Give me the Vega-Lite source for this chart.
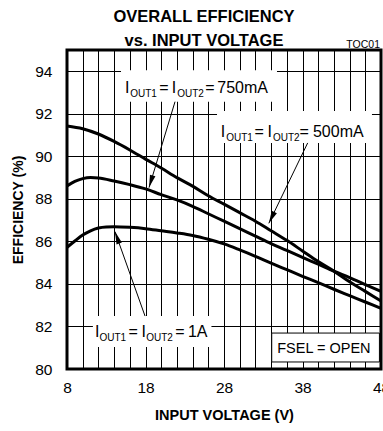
{
  "$schema": "https://vega.github.io/schema/vega-lite/v6.json",
  "autosize": {"type": "none"},
  "padding": {"left": 67, "top": 50, "right": 2, "bottom": 62},
  "width": 314,
  "height": 319,
  "background": "white",
  "config": {
    "view": {"stroke": "#000", "strokeWidth": 3},
    "font": "Liberation Sans",
    "text": {"font": "Liberation Sans", "color": "#000"}
  },
  "title": {
    "text": ["OVERALL EFFICIENCY", "vs. INPUT VOLTAGE"],
    "font": "Liberation Sans",
    "fontSize": 16.5,
    "fontWeight": "bold",
    "lineHeight": 24,
    "anchor": "middle",
    "dx": -20,
    "dy": 13,
    "offset": 4,
    "color": "#000"
  },
  "encoding": {
    "x": {
      "field": "x", "type": "quantitative",
      "scale": {"domain": [8, 48], "nice": false, "zero": false},
      "axis": {
        "title": "INPUT VOLTAGE (V)",
        "values": [8,10,12,14,16,18,20,22,24,26,28,30,32,34,36,38,40,42,44,46,48],
        "labelExpr": "(datum.value - 8) % 10 === 0 ? datum.label : ''",
        "labelFlush": false, "labelOverlap": false,
        "grid": true, "gridColor": "#000", "gridWidth": 1, "gridOpacity": 1,
        "ticks": false, "domain": false,
        "labelFont": "Liberation Sans", "labelFontSize": 15.5, "labelColor": "#000", "labelPadding": 11,
        "titleFont": "Liberation Sans", "titleFontSize": 14.5, "titleFontWeight": "bold", "titleColor": "#000", "titlePadding": 13
      }
    },
    "y": {
      "field": "y", "type": "quantitative",
      "scale": {"domain": [80, 95], "nice": false, "zero": false},
      "axis": {
        "title": "EFFICIENCY (%)",
        "values": [80,82,84,86,88,90,92,94],
        "labelOverlap": false, "labelFlush": false,
        "grid": true, "gridColor": "#000", "gridWidth": 1, "gridOpacity": 1,
        "ticks": false, "domain": false,
        "labelFont": "Liberation Sans", "labelFontSize": 15.5, "labelColor": "#000", "labelPadding": 15,
        "titleFont": "Liberation Sans", "titleFontSize": 14, "titleFontWeight": "bold", "titleColor": "#000", "titlePadding": 9
      }
    }
  },
  "layer": [
    {
      "data": {"values": [
        {"series": "500mA", "x": 8, "y": 91.43}, {"series": "500mA", "x": 10, "y": 91.3}, {"series": "500mA", "x": 12, "y": 91.05},
        {"series": "500mA", "x": 14, "y": 90.7}, {"series": "500mA", "x": 16, "y": 90.3}, {"series": "500mA", "x": 18, "y": 89.87},
        {"series": "500mA", "x": 20, "y": 89.45}, {"series": "500mA", "x": 22, "y": 89.0}, {"series": "500mA", "x": 24, "y": 88.6},
        {"series": "500mA", "x": 26, "y": 88.15}, {"series": "500mA", "x": 28, "y": 87.75}, {"series": "500mA", "x": 30, "y": 87.35},
        {"series": "500mA", "x": 32, "y": 86.95}, {"series": "500mA", "x": 34, "y": 86.5}, {"series": "500mA", "x": 36, "y": 86.05},
        {"series": "500mA", "x": 38, "y": 85.55}, {"series": "500mA", "x": 40, "y": 85.05}, {"series": "500mA", "x": 42, "y": 84.6},
        {"series": "500mA", "x": 44, "y": 84.1}, {"series": "500mA", "x": 46, "y": 83.65}, {"series": "500mA", "x": 48, "y": 83.2},
        {"series": "750mA", "x": 8, "y": 88.61}, {"series": "750mA", "x": 9, "y": 88.82}, {"series": "750mA", "x": 10, "y": 88.95},
        {"series": "750mA", "x": 11, "y": 89.0}, {"series": "750mA", "x": 12, "y": 88.98}, {"series": "750mA", "x": 14, "y": 88.84},
        {"series": "750mA", "x": 16, "y": 88.67}, {"series": "750mA", "x": 18, "y": 88.47}, {"series": "750mA", "x": 20, "y": 88.2},
        {"series": "750mA", "x": 22, "y": 87.95}, {"series": "750mA", "x": 24, "y": 87.65}, {"series": "750mA", "x": 26, "y": 87.3},
        {"series": "750mA", "x": 28, "y": 86.95}, {"series": "750mA", "x": 30, "y": 86.6}, {"series": "750mA", "x": 32, "y": 86.25},
        {"series": "750mA", "x": 34, "y": 85.9}, {"series": "750mA", "x": 36, "y": 85.58}, {"series": "750mA", "x": 38, "y": 85.25},
        {"series": "750mA", "x": 40, "y": 84.93}, {"series": "750mA", "x": 42, "y": 84.6}, {"series": "750mA", "x": 44, "y": 84.3},
        {"series": "750mA", "x": 46, "y": 83.97}, {"series": "750mA", "x": 48, "y": 83.65},
        {"series": "1A", "x": 8, "y": 85.72}, {"series": "1A", "x": 9, "y": 86.02}, {"series": "1A", "x": 10, "y": 86.3},
        {"series": "1A", "x": 11, "y": 86.5}, {"series": "1A", "x": 12, "y": 86.63}, {"series": "1A", "x": 13, "y": 86.68},
        {"series": "1A", "x": 14, "y": 86.69}, {"series": "1A", "x": 16, "y": 86.66}, {"series": "1A", "x": 18, "y": 86.6},
        {"series": "1A", "x": 20, "y": 86.5}, {"series": "1A", "x": 22, "y": 86.4}, {"series": "1A", "x": 24, "y": 86.28},
        {"series": "1A", "x": 26, "y": 86.1}, {"series": "1A", "x": 28, "y": 85.88}, {"series": "1A", "x": 30, "y": 85.6},
        {"series": "1A", "x": 32, "y": 85.3}, {"series": "1A", "x": 34, "y": 84.98}, {"series": "1A", "x": 36, "y": 84.67},
        {"series": "1A", "x": 38, "y": 84.36}, {"series": "1A", "x": 40, "y": 84.06}, {"series": "1A", "x": 42, "y": 83.75},
        {"series": "1A", "x": 44, "y": 83.45}, {"series": "1A", "x": 46, "y": 83.15}, {"series": "1A", "x": 48, "y": 82.85}
      ]},
      "mark": {"type": "line", "color": "#000", "strokeWidth": 3, "interpolate": "monotone"},
      "encoding": {"detail": {"field": "series", "type": "nominal"}}
    },
    {
      "data": {"values": [
        {"box": "750mA", "x": 14.88, "x2": 34.75, "y": 92.57, "y2": 94.05},
        {"box": "500mA", "x": 27.11, "x2": 46.85, "y": 90.63, "y2": 92.13},
        {"box": "1A", "x": 11.3, "x2": 26.4, "y": 81.03, "y2": 82.49}
      ]},
      "mark": {"type": "rect", "fill": "#fff", "stroke": null},
      "encoding": {"x2": {"field": "x2"}, "y2": {"field": "y2"}}
    },
    {
      "data": {"values": [
        {"box": "FSEL", "x": 34.08, "x2": 47.8, "y": 80.33, "y2": 81.69}
      ]},
      "mark": {"type": "rect", "fill": "#fff", "stroke": "#000", "strokeWidth": 1},
      "encoding": {"x2": {"field": "x2"}, "y2": {"field": "y2"}}
    },
    {
      "data": {"values": [
        {"label": "750mA", "x": 18.45, "y": 88.53, "x2": 21.76, "y2": 92.57},
        {"label": "500mA", "x": 33.71, "y": 86.85, "x2": 38.66, "y2": 90.63},
        {"label": "1A", "x": 14.11, "y": 86.46, "x2": 17.94, "y2": 82.49}
      ]},
      "layer": [
        {
          "mark": {"type": "rule", "color": "#000", "strokeWidth": 1},
          "encoding": {"x2": {"field": "x2"}, "y2": {"field": "y2"}}
        },
        {
          "transform": [{"filter": "datum.label === '750mA'"}],
          "mark": {"type": "point", "shape": "M0,0L0.45,2L-0.45,2Z", "filled": true, "color": "#000", "opacity": 1, "size": 160, "strokeWidth": 0, "angle": 196.8}
        },
        {
          "transform": [{"filter": "datum.label === '500mA'"}],
          "mark": {"type": "point", "shape": "M0,0L0.45,2L-0.45,2Z", "filled": true, "color": "#000", "opacity": 1, "size": 160, "strokeWidth": 0, "angle": 205.8}
        },
        {
          "transform": [{"filter": "datum.label === '1A'"}],
          "mark": {"type": "point", "shape": "M0,0L0.45,2L-0.45,2Z", "filled": true, "color": "#000", "opacity": 1, "size": 160, "strokeWidth": 0, "angle": 340.4}
        }
      ]
    },
    {
      "data": {"values": [
        {"label": "750mA", "kind": "main", "t": "I", "x": 15.4, "y": 92.99},
        {"label": "750mA", "kind": "sub", "t": "OUT1", "x": 16.05, "y": 92.99},
        {"label": "750mA", "kind": "main", "t": "=", "x": 19.75, "y": 92.99},
        {"label": "750mA", "kind": "main", "t": "I", "x": 21.35, "y": 92.99},
        {"label": "750mA", "kind": "sub", "t": "OUT2", "x": 22.04, "y": 92.99},
        {"label": "750mA", "kind": "main", "t": "=", "x": 25.61, "y": 92.99},
        {"label": "750mA", "kind": "main", "t": "750mA", "x": 27.14, "y": 92.99},
        {"label": "500mA", "kind": "main", "t": "I", "x": 27.6, "y": 90.92},
        {"label": "500mA", "kind": "sub", "t": "OUT1", "x": 28.28, "y": 90.92},
        {"label": "500mA", "kind": "main", "t": "=", "x": 31.89, "y": 90.92},
        {"label": "500mA", "kind": "main", "t": "I", "x": 33.54, "y": 90.92},
        {"label": "500mA", "kind": "sub", "t": "OUT2", "x": 34.23, "y": 90.92},
        {"label": "500mA", "kind": "main", "t": "=", "x": 37.62, "y": 90.92},
        {"label": "500mA", "kind": "main", "t": "500mA", "x": 39.33, "y": 90.92},
        {"label": "1A", "kind": "main", "t": "I", "x": 11.57, "y": 81.52},
        {"label": "1A", "kind": "sub", "t": "OUT1", "x": 12.14, "y": 81.52},
        {"label": "1A", "kind": "main", "t": "=", "x": 15.83, "y": 81.52},
        {"label": "1A", "kind": "main", "t": "I", "x": 17.49, "y": 81.52},
        {"label": "1A", "kind": "sub", "t": "OUT2", "x": 18.09, "y": 81.52},
        {"label": "1A", "kind": "main", "t": "=", "x": 21.78, "y": 81.52},
        {"label": "1A", "kind": "main", "t": "1A", "x": 23.41, "y": 81.52},
        {"label": "FSEL", "kind": "boxed", "t": "FSEL = OPEN", "x": 34.78, "y": 80.75}
      ]},
      "layer": [
        {
          "transform": [{"filter": "datum.kind === 'main'"}],
          "mark": {"type": "text", "align": "left", "baseline": "alphabetic", "fontSize": 16, "color": "#000"},
          "encoding": {"text": {"field": "t"}}
        },
        {
          "transform": [{"filter": "datum.kind === 'boxed'"}],
          "mark": {"type": "text", "align": "left", "baseline": "alphabetic", "fontSize": 14.5, "color": "#000"},
          "encoding": {"text": {"field": "t"}}
        },
        {
          "transform": [{"filter": "datum.kind === 'sub'"}],
          "mark": {"type": "text", "align": "left", "baseline": "alphabetic", "fontSize": 10, "dy": 4, "color": "#000"},
          "encoding": {"text": {"field": "t"}}
        }
      ]
    },
    {
      "data": {"values": [{"x": 48, "y": 95, "t": "TOC01"}]},
      "mark": {"type": "text", "align": "right", "baseline": "alphabetic", "fontSize": 10.5, "dy": -2, "dx": -1, "color": "#000"},
      "encoding": {"text": {"field": "t"}}
    }
  ]
}
